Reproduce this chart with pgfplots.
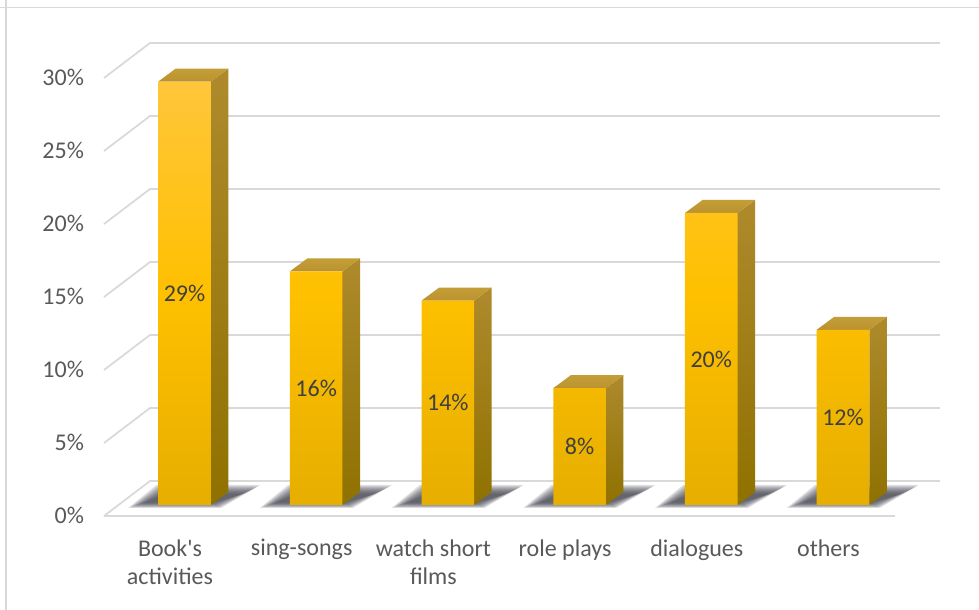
\documentclass[border=0pt]{standalone}
\usepackage{fontspec}
\setmainfont{Carlito}
\newfontface\straightface{Carlito}
\usepackage{pgfplots}
\usepackage{pgfplotstable}
\pgfplotsset{compat=1.18}

\definecolor{gridgray}{HTML}{D9D9D9}
\definecolor{labelgray}{HTML}{595959}
\definecolor{valuegray}{HTML}{404040}
\definecolor{shadowcol}{HTML}{3E3E4A}

% Share of each activity, in percent
\pgfplotstableread{
idx pct
0   29
1   16
2   14
3   8
4   20
5   12
}\activitydata

% Common frame of both axes; 1 px of the layout is 0.75 pt
\pgfplotsset{
  chartbox/.style={
    scale only axis, width=645pt, height=375pt,
    at={(67.5pt,60pt)}, anchor=south west, clip=false,
  },
  gridline/.style={gridgray, line width=1.3pt, no markers, forget plot},
}

% Soft floor shadow of bar #1 (layer inset #2, layout px)
\newcommand\shadowlayer[2]{%
  \pgfmathsetmacro\ax{#1+(-56.3+1.8*#2)/131.7}\pgfmathsetmacro\ay{(-3+0.6*#2)/14.6}%
  \pgfmathsetmacro\bx{#1+(-28.3+#2)/131.7}\pgfmathsetmacro\by{(20-#2)/14.6}%
  \pgfmathsetmacro\cx{#1+(75.7-1.8*#2)/131.7}\pgfmathsetmacro\cy{(20-#2)/14.6}%
  \pgfmathsetmacro\dx{#1+(36.7-#2)/131.7}\pgfmathsetmacro\dy{(-3+0.6*#2)/14.6}%
  \addplot[draw=none, fill=shadowcol, opacity=0.14, no markers, forget plot]
    coordinates {(\ax,\ay)(\bx,\by)(\cx,\cy)(\dx,\dy)(\ax,\ay)};%
}
\newcommand\barshadow[1]{%
  \shadowlayer{#1}{0}\shadowlayer{#1}{1}\shadowlayer{#1}{2}\shadowlayer{#1}{3}\shadowlayer{#1}{4}%
  \shadowlayer{#1}{5}\shadowlayer{#1}{6}\shadowlayer{#1}{7}\shadowlayer{#1}{8}\shadowlayer{#1}{9}%
}

% Side and top faces of bar #1 with value #2
\newcommand\barfaces[2]{%
  \pgfmathsetmacro\xl{#1-0.1997}\pgfmathsetmacro\xr{#1+0.1997}%
  \pgfmathsetmacro\xs{#1+0.1997+0.1329}\pgfmathsetmacro\xt{#1-0.1997+0.1329}%
  \pgfmathsetmacro\yb{#2+0.89}\pgfmathsetmacro\yz{0.89}%
  \addplot[draw=none, top color=sidetop, bottom color=sidebot, no markers, forget plot]
    coordinates {(\xr,0)(\xs,\yz)(\xs,\yb)(\xr,#2)(\xr,0)};%
  \addplot[draw=none, top color=roofback, bottom color=rooffront, no markers, forget plot]
    coordinates {(\xl,#2)(\xt,\yb)(\xs,\yb)(\xr,#2)(\xl,#2)};%
}
\definecolor{sidetop}{HTML}{AE8A2C}
\definecolor{sidebot}{HTML}{8F7100}
\definecolor{roofback}{HTML}{C39E36}
\definecolor{rooffront}{HTML}{BB9230}
\definecolor{facetop}{HTML}{FFC63A}
\definecolor{facemid}{HTML}{FFC000}
\definecolor{facebot}{HTML}{E6AE00}

\begin{document}
\begin{tikzpicture}
  \path[use as bounding box, fill=white] (0,0) rectangle (734.25pt,457.5pt);
  \draw[gridgray, line width=0.8pt] (4.5pt,457.5pt) -- (4.5pt,0pt);
  \draw[gridgray, line width=0.8pt] (0pt,452.2pt) -- (734.25pt,452.2pt);

  % Walls, floor, category and percent labels
  \begin{axis}[chartbox,
    xmin=-0.6074, xmax=5.9226, ymin=-0.959, ymax=33.288,
    axis line style={draw=none}, major tick length=0pt,
    xtick={0,1,2,3,4,5},
    xticklabels={Book{\straightface\fontsize{18}{21.7}\selectfont\char39}s\\activities, sing-songs, watch short\\films, role plays, dialogues, others},
    xticklabel style={align=center, font=\fontsize{18}{21.7}\selectfont, text=labelgray, anchor=north, yshift=-3.5pt},
    ytick={0,5,10,15,20,25,30},
    yticklabel={\pgfmathprintnumber{\tick}\%},
    yticklabel style={/pgf/number format/assume math mode=true, font=\fontsize{18}{20}\selectfont, text=labelgray, anchor=east, xshift=-1pt, yshift=0.8pt},
  ]
    \addplot[gridline] coordinates {(-0.5011,0)(-0.1519,2.397)(5.8466,2.397)};
    \addplot[gridline] coordinates {(-0.5011,0)(5.5049,0)};
    \addplot[gridline] coordinates {(-0.5011,5)(-0.1519,7.397)(5.8466,7.397)};
    \addplot[gridline] coordinates {(-0.5011,10)(-0.1519,12.397)(5.8466,12.397)};
    \addplot[gridline] coordinates {(-0.5011,15)(-0.1519,17.397)(5.8466,17.397)};
    \addplot[gridline] coordinates {(-0.5011,20)(-0.1519,22.397)(5.8466,22.397)};
    \addplot[gridline] coordinates {(-0.5011,25)(-0.1519,27.397)(5.8466,27.397)};
    \addplot[gridline] coordinates {(-0.5011,30)(-0.1519,32.397)(5.8466,32.397)};
  \end{axis}

  % Bars stand on a plane set slightly behind the front edge of the floor
  \begin{axis}[chartbox, hide axis,
    xmin=-0.7175, xmax=5.8125, ymin=-1.712, ymax=32.534,
  ]
    \barshadow{0}\barshadow{1}\barshadow{2}\barshadow{3}\barshadow{4}\barshadow{5}
    \barfaces{0}{29}\barfaces{1}{16}\barfaces{2}{14}\barfaces{3}{8}\barfaces{4}{20}\barfaces{5}{12}
    \addplot[ybar, bar width=39.45pt, draw=none, no markers,
      top color=facetop, bottom color=facebot, middle color=facemid,
      visualization depends on=y \as \rawy,
      nodes near coords={\pgfmathprintnumber[assume math mode=true]{\pgfplotspointmeta}\%},
      every node near coord/.style={anchor=center, text=valuegray,
        font=\fontsize{18}{20}\selectfont, yshift=-5.475pt*\rawy},
    ] table[x=idx, y=pct] {\activitydata};
  \end{axis}
\end{tikzpicture}
\end{document}
